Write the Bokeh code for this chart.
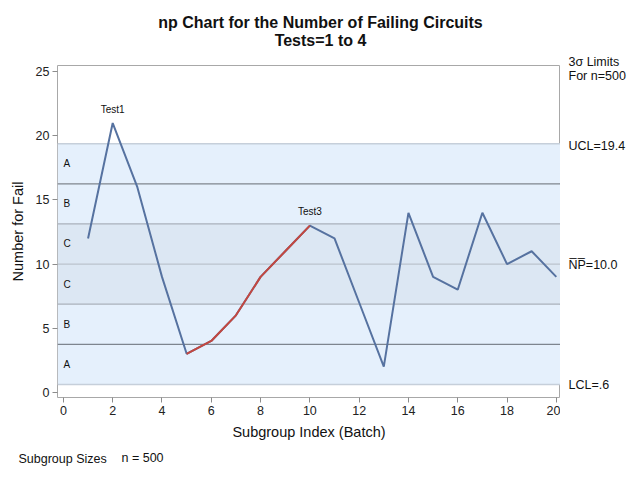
from bokeh.plotting import figure
from bokeh.models import Range1d, BoxAnnotation, Span, Label
from bokeh.layouts import column, row
from bokeh.embed import file_html
from bokeh.resources import INLINE

# ---- data ----
subgroup = list(range(1, 21))
nfail = [12, 21, 16, 9, 3, 4, 6, 9, 11, 13, 12, 7, 2, 14, 9, 8, 14, 10, 11, 9]
center = 10.0
ucl = 19.39
lcl = 0.61
n_size = 500
x_ticks = list(range(0, 21, 2))
y_ticks = [0, 5, 10, 15, 20, 25]
trend_start, trend_end = 5, 10   # Test3 run (subgroups 5..10)
test1_idx = 2
test3_idx = 10
title1 = "np Chart for the Number of Failing Circuits"
title2 = "Tests=1 to 4"

sigma = (ucl - center) / 3.0

FONT = "Liberation Sans"
LINE_COL = "#5672A0"
RED_COL = "#C4473F"

W, H = 640, 480
TOP_H = 50          # title strip
BOT_H = 35          # subgroup-size strip
RIGHT_W = 80        # control-limit label strip
MID_H = H - TOP_H - BOT_H
FRAME_L, FRAME_R, FRAME_T, FRAME_B = 57, 560, 65, 397

x0, x1 = -0.24, 20.17
y0, y1 = -0.41, 25.49
fh = FRAME_B - FRAME_T


def text_fig(px0, py0, w, h):
    f = figure(width=w, height=h, output_backend="svg", toolbar_location=None,
               x_range=Range1d(px0, px0 + w), y_range=Range1d(py0 + h, py0),
               min_border=0, min_border_left=0, min_border_right=0,
               min_border_top=0, min_border_bottom=0)
    f.frame_align = False
    f.xaxis.visible = False
    f.yaxis.visible = False
    f.xgrid.visible = False
    f.ygrid.visible = False
    f.outline_line_color = None
    f.background_fill_color = "white"
    f.border_fill_color = "white"
    return f


def lab(f, x, y, text, size="12.5px", align="left", style="normal", color="#111111"):
    f.add_layout(Label(x=x, y=y, text=text, text_font=FONT, text_font_size=size,
                       text_align=align, text_baseline="middle", text_font_style=style,
                       text_color=color))


# ---- main chart ----
p = figure(width=FRAME_R, height=MID_H, output_backend="svg", toolbar_location=None,
           x_range=Range1d(x0, x1), y_range=Range1d(y0, y1),
           min_border_left=FRAME_L, min_border_right=0,
           min_border_top=FRAME_T - TOP_H, min_border_bottom=H - BOT_H - FRAME_B)
p.frame_align = False
p.xgrid.visible = False
p.ygrid.visible = False
p.outline_line_color = "#A8A8A8"
p.background_fill_color = "white"
p.border_fill_color = "white"

zone_fill_ab = "#E5F0FC"
zone_fill_c = "#DCE7F3"
for lo, hi, col in [(center + 2 * sigma, ucl, zone_fill_ab),
                    (center + sigma, center + 2 * sigma, zone_fill_ab),
                    (center - sigma, center + sigma, zone_fill_c),
                    (center - 2 * sigma, center - sigma, zone_fill_ab),
                    (lcl, center - 2 * sigma, zone_fill_ab)]:
    p.add_layout(BoxAnnotation(bottom=lo, top=hi, fill_color=col, fill_alpha=1,
                               line_alpha=0, level="underlay"))

for v, col, w in [(ucl, "#C6CFDA", 1.5), (lcl, "#C6CFDA", 1.5),
                  (center + 2 * sigma, "#7E858E", 1.3), (center - 2 * sigma, "#7E858E", 1.3),
                  (center + sigma, "#A9B1BB", 1.2), (center - sigma, "#A9B1BB", 1.2),
                  (center, "#BBC3CD", 1.2)]:
    p.add_layout(Span(location=v, dimension="width", line_color=col, line_width=w, level="underlay"))

p.line(subgroup, nfail, line_color=LINE_COL, line_width=2)
p.line(subgroup[trend_start - 1:trend_end], nfail[trend_start - 1:trend_end],
       line_color=RED_COL, line_width=2)

p.xaxis.ticker = x_ticks
p.yaxis.ticker = y_ticks
for ax in (p.xaxis[0], p.yaxis[0]):
    ax.minor_tick_line_color = None
    ax.major_tick_in = 0
    ax.major_tick_out = 5
    ax.major_tick_line_color = "#8C8C8C"
    ax.axis_line_color = None
    ax.major_label_text_font = FONT
    ax.major_label_text_font_size = "12.5px"
    ax.major_label_text_color = "#222222"
    ax.axis_label_text_font = FONT
    ax.axis_label_text_font_size = "14.5px"
    ax.axis_label_text_font_style = "normal"
    ax.axis_label_text_color = "#111111"
p.xaxis.axis_label = "Subgroup Index (Batch)"
p.yaxis.axis_label = "Number for Fail"
p.xaxis.major_label_standoff = 3
p.yaxis.major_label_standoff = 3
p.xaxis.axis_label_standoff = 6
p.yaxis.axis_label_standoff = 7

# zone letters
zx = x0 + (63 - FRAME_L) / (FRAME_R - FRAME_L) * (x1 - x0)
for ylv, letter in [(center + 2.5 * sigma, "A"), (center + 1.5 * sigma, "B"), (center + 0.5 * sigma, "C"),
                    (center - 0.5 * sigma, "C"), (center - 1.5 * sigma, "B"), (center - 2.5 * sigma, "A")]:
    lab(p, zx, ylv, letter, size="10px")

off = 14 / fh * (y1 - y0)
lab(p, test1_idx, nfail[test1_idx - 1] + off, "Test1", size="10px", align="center")
lab(p, test3_idx, nfail[test3_idx - 1] + off, "Test3", size="10px", align="center")

# ---- title strip ----
top = text_fig(0, 0, W, TOP_H)
lab(top, 320, 22, title1, size="16px", align="center", style="bold")
lab(top, 320, 40, title2, size="16px", align="center", style="bold")

# ---- right strip (page pixel coordinates) ----
right = text_fig(FRAME_R, TOP_H, RIGHT_W, MID_H)


def val2py(v):
    return FRAME_B - (v - y0) / (y1 - y0) * fh


lab(right, 568, 61, "3\u03c3 Limits")
lab(right, 568, 75, "For n=%d" % n_size)
lab(right, 568, val2py(ucl) + 2, "UCL=%.1f" % ucl)
lab(right, 568, val2py(center) + 1, "N\u0305P\u0305=%.1f" % center)
lab(right, 568, val2py(lcl) + 1, "LCL=%s" % ("%.1f" % lcl).lstrip("0"))

# ---- bottom strip ----
bot = text_fig(0, H - BOT_H, W, BOT_H)
lab(bot, 18, 458, "Subgroup Sizes")
lab(bot, 121, 457, "n = %d" % n_size)

layout = column(top, row(p, right, spacing=0), bot, spacing=0)
open("out.html", "w").write(file_html(layout, INLINE))
